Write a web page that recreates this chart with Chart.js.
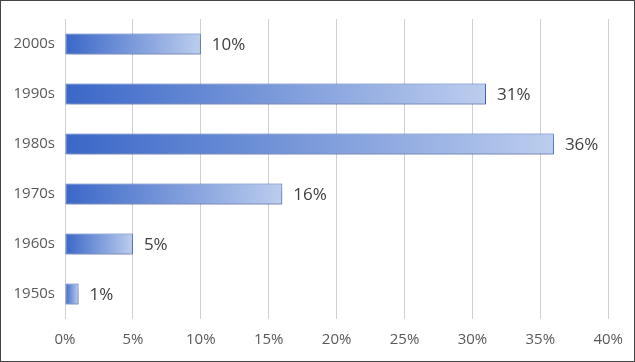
<!DOCTYPE html>
<html>
<head>
<meta charset="utf-8">
<style>
  html, body { margin: 0; padding: 0; background: #fff; }
  #wrap { width: 635px; height: 362px; position: relative; }
</style>
<script src="https://cdn.jsdelivr.net/npm/chart.js@4/dist/chart.umd.min.js"></script>
</head>
<body>
<div id="wrap"><canvas id="chart" width="635" height="362"></canvas></div>
<script>
const decades = ['2000s', '1990s', '1980s', '1970s', '1960s', '1950s'];
const shares = [10, 31, 36, 16, 5, 1];
const xTicks = [0, 5, 10, 15, 20, 25, 30, 35, 40];

const FONT = '"Open Sans", "Noto Sans", sans-serif';

function barGradient(ctx) {
  const chart = ctx.chart;
  if (!chart.chartArea || ctx.type !== 'data') return '#6f90d6';
  const x = chart.scales.x;
  const x0 = x.getPixelForValue(0);
  const x1 = x.getPixelForValue(ctx.raw);
  const g = chart.ctx.createLinearGradient(x0, 0, Math.max(x1, x0 + 1), 0);
  g.addColorStop(0, '#3a67c7');
  g.addColorStop(1, '#bccdee');
  return g;
}

const shadowPlugin = {
  id: 'shadow',
  beforeDatasetsDraw(chart) {
    const c = chart.ctx;
    c.save();
    c.shadowColor = 'rgba(0,0,40,0.28)';
    c.shadowBlur = 8;
    c.shadowOffsetX = 2;
    c.shadowOffsetY = 4;
  },
  afterDatasetsDraw(chart) {
    chart.ctx.restore();
  }
};

const labelPlugin = {
  id: 'valueLabels',
  afterDatasetsDraw(chart) {
    const c = chart.ctx;
    const meta = chart.getDatasetMeta(0);
    c.save();
    c.font = '17px ' + FONT;
    c.fillStyle = '#404040';
    c.textAlign = 'left';
    c.textBaseline = 'middle';
    meta.data.forEach((bar, i) => {
      c.fillText(shares[i] + '%', bar.x + 11, bar.y + 1);
    });
    c.restore();
  }
};

const framePlugin = {
  id: 'frame',
  afterDraw(chart) {
    const c = chart.ctx;
    c.save();
    c.strokeStyle = '#444';
    c.lineWidth = 1;
    c.strokeRect(0.5, 0.5, chart.width - 1, chart.height - 1);
    c.restore();
  }
};

new Chart(document.getElementById('chart'), {
  type: 'bar',
  data: {
    labels: decades,
    datasets: [{
      data: shares,
      backgroundColor: barGradient,
      borderColor: '#4a72c6',
      borderWidth: 1,
      borderSkipped: false,
      barPercentage: 0.42,
      categoryPercentage: 1
    }]
  },
  options: {
    indexAxis: 'y',
    responsive: false,
    animation: false,
    layout: { padding: { top: 19, right: 25, bottom: 0, left: 0 } },
    plugins: { legend: { display: false }, tooltip: { enabled: false } },
    scales: {
      x: {
        min: 0,
        max: 40,
        afterBuildTicks: s => { s.ticks = xTicks.map(v => ({ value: v })); },
        afterFit: s => { s.height = 43; },
        border: { display: false },
        grid: { color: '#d0d0d0', drawTicks: false, lineWidth: 1 },
        ticks: {
          padding: 12,
          color: '#595959',
          font: { size: 15, family: FONT }
,
          callback: v => v + '%'
        }
      },
      y: {
        afterFit: s => { s.width = 65; },
        border: { display: false },
        grid: { display: false, drawTicks: false },
        ticks: {
          padding: 10,
          color: '#595959',
          font: { size: 15, family: FONT }
        }
      }
    }
  },
  plugins: [shadowPlugin, labelPlugin, framePlugin]
});
</script>
</body>
</html>
